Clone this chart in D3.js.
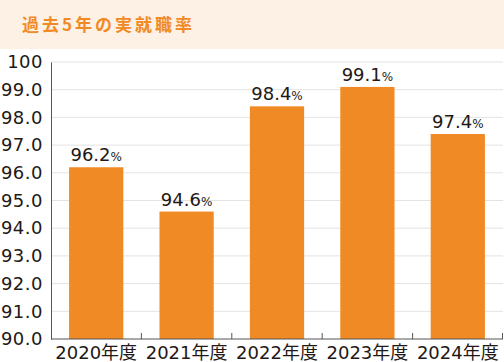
<!DOCTYPE html>
<html>
<head>
<meta charset="utf-8">
<script src="https://cdn.jsdelivr.net/npm/d3@7"></script>
<style>
body{margin:0;background:#fff;font-family:"DejaVu Sans","Noto Sans CJK JP",sans-serif;}
</style>
</head>
<body>
<script>
var years = ['2020年度','2021年度','2022年度','2023年度','2024年度'];
var rates = [96.2, 94.6, 98.4, 99.1, 97.4];
var yTicks = [90,91,92,93,94,95,96,97,98,99,100];

var width = 504, height = 362, margin = {left:51, top:62, right:1, bottom:23};
var g_width = width - margin.left - margin.right, g_height = height - margin.top - margin.bottom;
var svg = d3.select('body').append('svg').attr('width',width).attr('height',height);

// header band
svg.append('rect').attr('x',0).attr('y',0).attr('width',width).attr('height',49).attr('fill','#fdf0e4');
svg.append('text').attr('x',22).attr('y',31).text('過去5年の実就職率')
  .attr('fill','#f08a24').attr('font-size',17).attr('font-weight','bold').attr('letter-spacing',3)
  .attr('font-family','"Noto Sans CJK JP",sans-serif');

var g = svg.append('g').attr('transform','translate('+margin.left+','+margin.top+')');
var scale_x = d3.scaleBand().domain(years).range([0,g_width]).paddingInner(0.4).paddingOuter(0.2);
var scale_y = d3.scaleLinear().domain([90,100]).range([g_height,0]);

// grid
g.selectAll('.grid').data(yTicks.slice(1)).enter().append('line')
  .attr('x1',0).attr('x2',g_width)
  .attr('y1',function(d){return scale_y(d);}).attr('y2',function(d){return scale_y(d);})
  .attr('stroke','#e3e3e3').attr('stroke-width',1);

// bars
g.selectAll('.bar').data(rates).enter().append('rect')
  .attr('x',function(d,i){return scale_x(years[i]);})
  .attr('y',function(d){return scale_y(d);})
  .attr('width',scale_x.bandwidth())
  .attr('height',function(d){return g_height - scale_y(d);})
  .attr('fill','#f08a24');

// value labels
var lab = g.selectAll('.lab').data(rates).enter().append('text')
  .attr('x',function(d,i){return scale_x(years[i]) + scale_x.bandwidth()/2;})
  .attr('y',function(d){return scale_y(d) - 6;})
  .attr('text-anchor','middle').attr('fill','#231815').attr('font-size',18);
lab.append('tspan').text(function(d){return d.toFixed(1);});
lab.append('tspan').text('%').attr('font-size',12);

// y axis
var y_axis = d3.axisLeft(scale_y).tickValues(yTicks).tickSize(0).tickPadding(8)
  .tickFormat(function(d){return d === 100 ? '100' : d.toFixed(1);});
var ya = g.append('g').call(y_axis);
ya.select('.domain').attr('stroke','#555');
ya.selectAll('text').attr('font-size',18).attr('fill','#231815').attr('letter-spacing',0.5)
  .attr('font-family','"DejaVu Sans",sans-serif');

// x axis with ticks at band boundaries
var xa = g.append('g').attr('transform','translate(0,'+g_height+')');
xa.append('line').attr('x1',0).attr('x2',g_width).attr('y1',0).attr('y2',0).attr('stroke','#555');
var bounds = years.map(function(d){return scale_x(d) - scale_x.step()*scale_x.paddingInner()/2 + scale_x.step();});
xa.selectAll('.tk').data(bounds).enter().append('line')
  .attr('x1',function(d){return Math.min(d,g_width-0.5);}).attr('x2',function(d){return Math.min(d,g_width-0.5);})
  .attr('y1',0).attr('y2',-6).attr('stroke','#555');
xa.selectAll('.cat').data(years).enter().append('text')
  .attr('x',function(d){return scale_x(d)+scale_x.bandwidth()/2;})
  .attr('y',20).attr('text-anchor','middle').attr('font-size',18).attr('fill','#231815')
  .attr('font-family','"DejaVu Sans","Noto Sans CJK JP",sans-serif')
  .text(function(d){return d;});
</script>
</body>
</html>
